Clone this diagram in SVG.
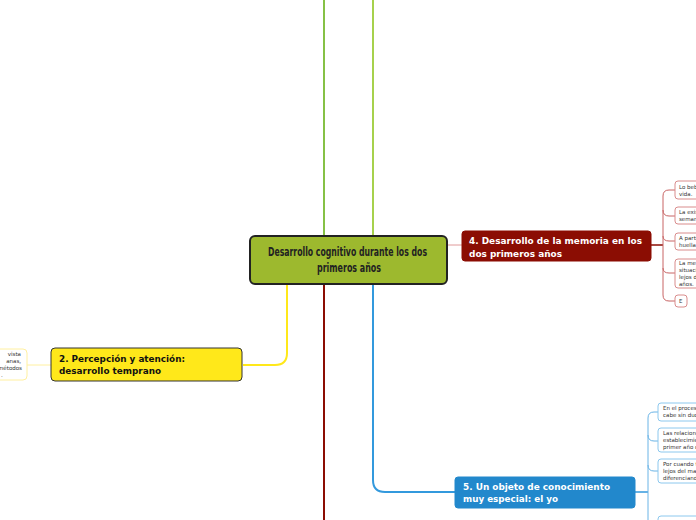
<svg xmlns="http://www.w3.org/2000/svg" width="696" height="520" viewBox="0 0 696 520">
<style>
.main{font-family:"DejaVu Sans","Liberation Sans",sans-serif;font-stretch:condensed;font-weight:bold;font-size:12.5px;fill:#222;}
.t{font-family:"DejaVu Sans",Verdana,sans-serif;font-weight:bold;font-size:9.3px;}
.s{font-family:"DejaVu Sans",Verdana,sans-serif;font-size:5.5px;fill:#333;}
.c{fill:none;stroke-width:2;}
.rb{fill:#fff;stroke:#d98c8c;stroke-width:1;}
.bb{fill:#fff;stroke:#8cc8ee;stroke-width:1;}
.yb{fill:#fff;stroke:#fff0a0;stroke-width:1;}
</style>
<rect width="696" height="520" fill="#fff"/>
<g id="connectors">
<line x1="324" y1="0" x2="324" y2="237" stroke="#86c146" class="c"/>
<line x1="373" y1="0" x2="373" y2="237" stroke="#a6d14c" class="c"/>
<line x1="324" y1="284" x2="324" y2="520" stroke="#8b0d03" class="c"/>
<path d="M287 284 V353 Q287 365 275 365 H243" stroke="#ffe81a" class="c"/>
<path d="M373 284 V480 Q373 492 385 492 H455" stroke="#3399dd" class="c"/>
<line x1="447" y1="245" x2="462" y2="245" stroke="#e09a9a" stroke-width="1"/>
<line x1="27" y1="365" x2="51" y2="365" stroke="#fff0a0" stroke-width="1"/>
<path d="M651 245 H663" stroke="#8b0d03" stroke-width="1.5" fill="none"/>
<path d="M675 190 H669 Q663 190 663 196 V295 Q663 301 669 301 H675 M663 210 Q663 216 669 216 H675 M663 236 Q663 241 669 241 H675 M663 268 Q663 273 669 273 H675" stroke="#c86464" stroke-width="1" fill="none"/>
<path d="M635 492 H648" stroke="#3399dd" stroke-width="1.5" fill="none"/>
<path d="M658 412 H654 Q648 412 648 418 V520 M648 435 Q648 441 654 441 H658 M648 465 Q648 471 654 471 H658" stroke="#6ab4e6" stroke-width="1" fill="none"/>
</g>
<g id="central">
<rect x="250" y="236" width="197" height="48" rx="5" fill="#9db92e" stroke="#222" stroke-width="2"/>
<text class="main" x="268" y="256" textLength="159" lengthAdjust="spacingAndGlyphs">Desarrollo cognitivo durante los dos</text>
<text class="main" x="317" y="272" textLength="64" lengthAdjust="spacingAndGlyphs">primeros años</text>
</g>
<g id="node2">
<rect x="51" y="348" width="191" height="33" rx="4" fill="#ffe81a" stroke="#333" stroke-width="1"/>
<text class="t" x="59" y="362" fill="#111" textLength="126" lengthAdjust="spacingAndGlyphs">2. Percepción y atención:</text>
<text class="t" x="59" y="374" fill="#111" textLength="102" lengthAdjust="spacingAndGlyphs">desarrollo temprano</text>
</g>
<g id="node2-child">
<rect x="-20" y="349" width="47" height="31" rx="4" class="yb"/>
<text class="s" x="21" y="356" text-anchor="end">vista</text>
<text class="s" x="21" y="363" text-anchor="end">anas,</text>
<text class="s" x="22" y="370" text-anchor="end">métodos</text>
<text class="s" x="1" y="377">.</text>
</g>
<g id="node4">
<rect x="462" y="231" width="189" height="30" rx="3" fill="#8b0d03" stroke="#8b0d03"/>
<text class="t" x="469" y="244" fill="#fff" textLength="173" lengthAdjust="spacingAndGlyphs">4. Desarrollo de la memoria en los</text>
<text class="t" x="469" y="256.5" fill="#fff" textLength="93" lengthAdjust="spacingAndGlyphs">dos primeros años</text>
</g>
<g id="node4-c1"><rect x="675" y="181" width="40" height="18" rx="3" class="rb"/><text class="s" x="679" y="189">Lo beb</text><text class="s" x="679" y="196">vida.</text></g>
<g id="node4-c2"><rect x="675" y="207" width="40" height="17" rx="3" class="rb"/><text class="s" x="679" y="214">La exis</text><text class="s" x="679" y="221">seman</text></g>
<g id="node4-c3"><rect x="675" y="233" width="40" height="17" rx="3" class="rb"/><text class="s" x="679" y="240">A partir</text><text class="s" x="679" y="247">huella</text></g>
<g id="node4-c4"><rect x="675" y="259" width="40" height="29" rx="3" class="rb"/><text class="s" x="679" y="265">La mem</text><text class="s" x="679" y="272">situaci</text><text class="s" x="679" y="279">lejos d</text><text class="s" x="679" y="286">años.</text></g>
<g id="node4-c5"><rect x="675" y="295" width="12" height="12" rx="3" class="rb"/><text class="s" x="679" y="303">E</text></g>
<g id="node5">
<rect x="455" y="477" width="180" height="31" rx="3" fill="#2288cc" stroke="#2288cc"/>
<text class="t" x="463" y="490" fill="#fff" textLength="147" lengthAdjust="spacingAndGlyphs">5. Un objeto de conocimiento</text>
<text class="t" x="463" y="502" fill="#fff" textLength="95" lengthAdjust="spacingAndGlyphs">muy especial: el yo</text>
</g>
<g id="node5-c1"><rect x="658" y="403" width="60" height="18" rx="3" class="bb"/><text class="s" x="663" y="410">En el proceso</text><text class="s" x="663" y="417">cabe sin duda</text></g>
<g id="node5-c2"><rect x="658" y="428" width="60" height="24" rx="3" class="bb"/><text class="s" x="663" y="435">Las relacione</text><text class="s" x="663" y="442">establecimien</text><text class="s" x="663" y="449">primer año d</text></g>
<g id="node5-c3"><rect x="658" y="459" width="60" height="24" rx="3" class="bb"/><text class="s" x="663" y="466">Por cuando ti</text><text class="s" x="663" y="473">lejos del mag</text><text class="s" x="663" y="480">diferenciando</text></g>
<g id="node5-c4"><rect x="658" y="516" width="60" height="20" rx="3" class="bb"/></g>
</svg>
